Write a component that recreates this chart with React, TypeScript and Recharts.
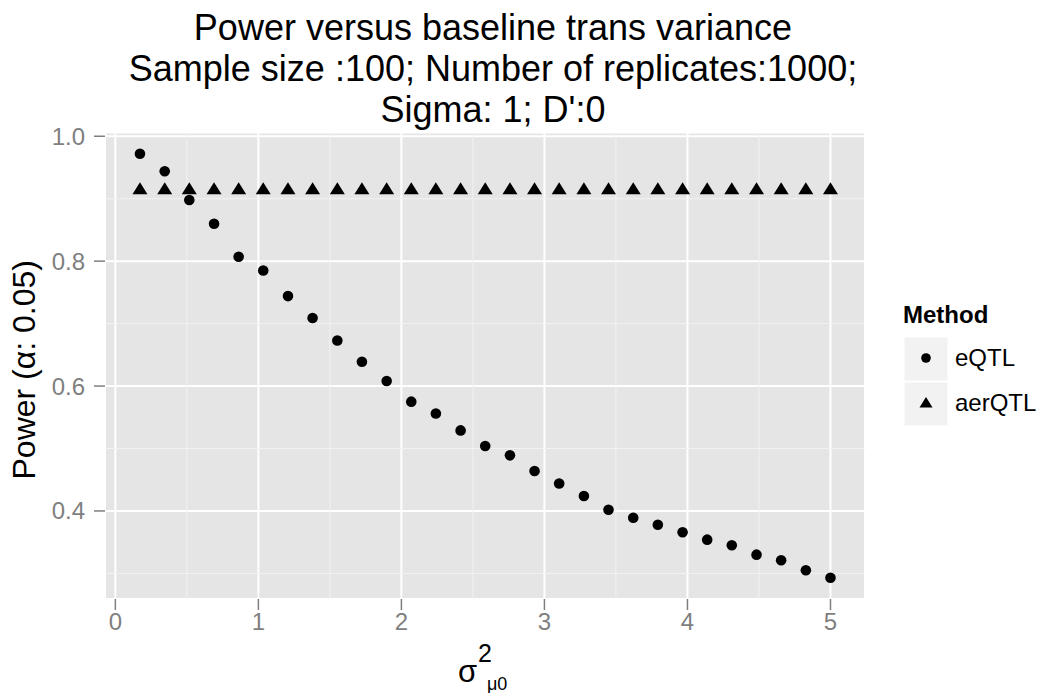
import { CartesianGrid, ReferenceLine, Scatter, ScatterChart, XAxis, YAxis } from "recharts";

const FONT = '"Liberation Sans", Arial, Helvetica, sans-serif';

// baseline trans variance (x) and power of each method
const baselineVar = [
  0.172, 0.345, 0.517, 0.69, 0.862, 1.034, 1.207, 1.379, 1.552, 1.724, 1.897, 2.069, 2.241, 2.414, 2.586,
  2.759, 2.931, 3.103, 3.276, 3.448, 3.621, 3.793, 3.966, 4.138, 4.31, 4.483, 4.655, 4.828, 5.0
];
const eqtlPower = [
  0.972, 0.944, 0.898, 0.86, 0.807, 0.785, 0.744, 0.709, 0.673, 0.639, 0.608, 0.575, 0.556, 0.529, 0.504,
  0.489, 0.464, 0.444, 0.424, 0.402, 0.389, 0.378, 0.366, 0.354, 0.345, 0.33, 0.321, 0.305, 0.293
];
const aerqtlPower = [
  0.915, 0.915, 0.915, 0.915, 0.915, 0.915, 0.915, 0.915, 0.915, 0.915, 0.915, 0.915, 0.915, 0.915, 0.915,
  0.915, 0.915, 0.915, 0.915, 0.915, 0.915, 0.915, 0.915, 0.915, 0.915, 0.915, 0.915, 0.915, 0.915
];

const xTicks = [0, 1, 2, 3, 4, 5];
const yTicks = [0.4, 0.6, 0.8, 1.0];
const xMinor = [0.5, 1.5, 2.5, 3.5, 4.5];
const yMinor = [0.3, 0.5, 0.7, 0.9];

const titleLines = [
  "Power versus baseline trans variance",
  "Sample size :100; Number of replicates:1000;",
  "Sigma: 1; D':0"
];
const methods = ["eQTL", "aerQTL"];

const eqtlData = baselineVar.map((x, i) => ({ x, y: eqtlPower[i] }));
const aerqtlData = baselineVar.map((x, i) => ({ x, y: aerqtlPower[i] }));

const tickStyle = { fontSize: 24, fill: "#7f7f7f", fontFamily: FONT };

function CircleShape(props: any) {
  return <circle cx={props.cx} cy={props.cy} r={5.3} fill="#000" />;
}

function TriangleShape(props: any) {
  const { cx, cy } = props;
  return <polygon points={`${cx},${cy - 7} ${cx - 7.5},${cy + 5} ${cx + 7.5},${cy + 5}`} fill="#000" />;
}

function XTitle({ viewBox }: any) {
  const cx = viewBox.x + viewBox.width / 2;
  return (
    <g fontFamily={FONT} fill="#000">
      <text x={cx - 27} y={682} fontSize={31}>σ</text>
      <text x={cx - 7} y={662} fontSize={25}>2</text>
      <text x={cx + 2} y={690} fontSize={18}>μ0</text>
    </g>
  );
}

function YTitle({ viewBox }: any) {
  const cy = viewBox.y + viewBox.height / 2 + 4;
  return (
    <text
      x={35}
      y={cy}
      transform={`rotate(-90, 35, ${cy})`}
      textAnchor="middle"
      fontSize={32}
      fontFamily={FONT}
      fill="#000"
    >
      Power (α: 0.05)
    </text>
  );
}

export default function App() {
  return (
    <div style={{ position: "absolute", left: 0, top: 0, width: 1048, height: 693, background: "#fff" }}>
      <ScatterChart width={1048} height={693} margin={{ top: 132.5, right: 183, bottom: 34, left: 0 }}>
        <CartesianGrid fill="#e5e5e5" stroke="#ffffff" strokeWidth={2} />
        {xMinor.map((v) => (
          <ReferenceLine key={`mx${v}`} x={v} stroke="#f2f2f2" strokeWidth={1} />
        ))}
        {yMinor.map((v) => (
          <ReferenceLine key={`my${v}`} y={v} stroke="#f2f2f2" strokeWidth={1} />
        ))}
        <XAxis
          type="number"
          dataKey="x"
          domain={[-0.0724, 5.2414]}
          allowDataOverflow
          ticks={xTicks}
          axisLine={false}
          tickLine={{ stroke: "#7f7f7f", strokeWidth: 1.5 }}
          tickSize={11}
          tickMargin={3}
          tick={tickStyle}
          height={60}
          label={<XTitle />}
        />
        <YAxis
          type="number"
          dataKey="y"
          domain={[0.259, 1.006]}
          allowDataOverflow
          ticks={yTicks}
          tickFormatter={(v: number) => v.toFixed(1)}
          axisLine={false}
          tickLine={{ stroke: "#7f7f7f", strokeWidth: 1.5 }}
          tickSize={11}
          tickMargin={9}
          tick={tickStyle}
          width={105}
          label={<YTitle />}
        />
        <Scatter name="eQTL" data={eqtlData} shape={CircleShape} isAnimationActive={false} />
        <Scatter name="aerQTL" data={aerqtlData} shape={TriangleShape} isAnimationActive={false} />
      </ScatterChart>

      <svg
        width={1048}
        height={693}
        style={{ position: "absolute", left: 0, top: 0, pointerEvents: "none" }}
        fontFamily={FONT}
      >
        {titleLines.map((line, i) => (
          <text key={line} x={493} y={40 + i * 41} textAnchor="middle" fontSize={36} fill="#000">
            {line}
          </text>
        ))}
        <text x={903} y={323} fontSize={24} fontWeight="bold" fill="#000">
          Method
        </text>
        {methods.map((m, i) => {
          const top = 337 + i * 45;
          const cx = 926;
          const cy = top + 21;
          return (
            <g key={m}>
              <rect x={904} y={top} width={44} height={44} fill="#f2f2f2" stroke="#fff" strokeWidth={1} />
              {i === 0 ? (
                <circle cx={cx} cy={cy} r={4.8} fill="#000" />
              ) : (
                <polygon points={`${cx},${cy - 6} ${cx - 6.5},${cy + 4.5} ${cx + 6.5},${cy + 4.5}`} fill="#000" />
              )}
              <text x={955} y={cy + 8} fontSize={24} fill="#000">
                {m}
              </text>
            </g>
          );
        })}
      </svg>
    </div>
  );
}
